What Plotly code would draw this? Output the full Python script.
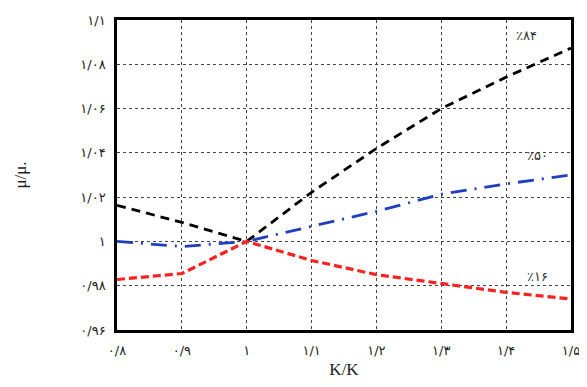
import plotly.graph_objects as go

x_vals = [0.8, 0.9, 1.0, 1.1, 1.2, 1.3, 1.4, 1.5]
p84 = [1.0163, 1.0086, 1.0, 1.0222, 1.042, 1.060, 1.0742, 1.0873]
p50 = [1.0, 0.9977, 1.0, 1.0068, 1.0136, 1.0213, 1.026, 1.030]
p16 = [0.9828, 0.9855, 1.0, 0.9914, 0.985, 0.981, 0.977, 0.974]

x_ticks = [0.8, 0.9, 1.0, 1.1, 1.2, 1.3, 1.4, 1.5]
x_ticklabels = ["۰/۸", "۰/۹", "۱", "۱/۱", "۱/۲", "۱/۳", "۱/۴", "۱/۵"]
y_ticks = [0.96, 0.98, 1.0, 1.02, 1.04, 1.06, 1.08, 1.1]
y_ticklabels = ["۰/۹۶", "۰/۹۸", "۱", "۱/۰۲", "۱/۰۴", "۱/۰۶", "۱/۰۸", "۱/۱"]

labels = ["٪۸۴", "٪۵۰", "٪۱۶"]
label_pos = [(1.432, 1.0928), (1.449, 1.039), (1.449, 0.984)]

fig = go.Figure()
fig.add_trace(go.Scatter(x=x_vals, y=p84, mode="lines",
                         line=dict(color="black", width=2.8, dash="9px,6px")))
fig.add_trace(go.Scatter(x=x_vals, y=p50, mode="lines",
                         line=dict(color="#1f3fbf", width=2.8, dash="16px,8px,2px,8px")))
fig.add_trace(go.Scatter(x=x_vals, y=p16, mode="lines",
                         line=dict(color="#ff2020", width=3.2, dash="8px,4px")))

for t, (lx, ly) in zip(labels, label_pos):
    fig.add_annotation(x=lx, y=ly, text=t, showarrow=False,
                       font=dict(family="DejaVu Sans", size=13, color="#333"))

axis_common = dict(showline=True, linecolor="black", linewidth=2.5, mirror="all",
                   showgrid=True, gridcolor="#444", griddash="dot", gridwidth=1.4,
                   zeroline=False, ticks="", automargin=False,
                   ticklabeloverflow="allow",
                   tickfont=dict(family="DejaVu Sans", size=13, color="#222"))

fig.update_xaxes(range=[0.8, 1.5], tickvals=x_ticks, ticktext=x_ticklabels,
                 ticklabelstandoff=7,
                 title=dict(text="K/K", font=dict(family="Liberation Serif", size=17, color="#222"),
                            standoff=11),
                 **axis_common)
fig.update_yaxes(range=[0.96, 1.1], tickvals=y_ticks, ticktext=y_ticklabels,
                 ticklabelstandoff=6,
                 title=dict(text="μ/μ.", font=dict(family="Liberation Serif", size=17, color="#222"),
                            standoff=50),
                 **axis_common)

# page body has an 8px margin; figure sized and placed to land on the reference frame
fig.update_layout(width=579, height=371, showlegend=False,
                  margin=dict(l=109, r=16, t=12, b=49),
                  plot_bgcolor="white", paper_bgcolor="white")

fig.write_html("out.html")
